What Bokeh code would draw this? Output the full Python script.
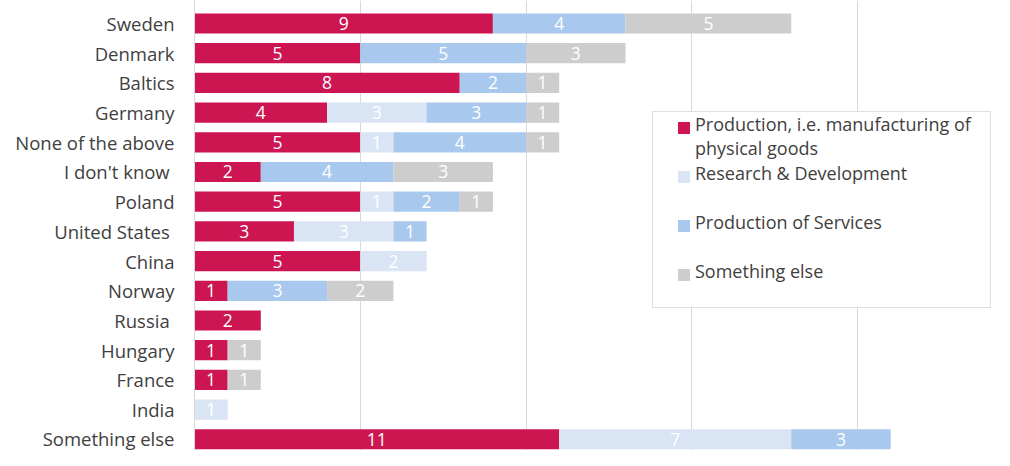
from bokeh.plotting import figure
from bokeh.models import Range1d, Legend, LegendItem, FixedTicker, ColumnDataSource
from bokeh.core.properties import value
from bokeh.embed import file_html
from bokeh.resources import INLINE

categories = ["Sweden", "Denmark", "Baltics", "Germany", "None of the above", "I don't know ",
              "Poland", "United States ", "China", "Norway", "Russia ", "Hungary", "France",
              "India", "Something else"]
production = [9, 5, 8, 4, 5, 2, 5, 3, 5, 1, 2, 1, 1, 0, 11]
research = [0, 0, 0, 3, 1, 0, 1, 3, 2, 0, 0, 0, 0, 1, 7]
services = [4, 5, 2, 3, 4, 4, 2, 1, 0, 3, 0, 0, 0, 0, 3]
other = [5, 3, 1, 1, 1, 3, 1, 0, 0, 2, 0, 1, 1, 0, 0]

series_names = ["Production, i.e. manufacturing of    \nphysical goods",
                "Research & Development\n ",
                "Production of Services\n ",
                "Something else\n "]
series = [production, research, services, other]
colors = ["#CC1551", "#D9E4F5", "#A9C8EE", "#CDCDCD"]

FONT = "Open Sans"
n = len(categories)
ypos = [n - 1 - i for i in range(n)]

p = figure(width=994, height=450, output_backend="svg", toolbar_location=None,
           y_range=Range1d(-0.378, 14.774), x_range=Range1d(0, 24.13),
           min_border_left=194, min_border_right=0, min_border_top=0, min_border_bottom=0)
p.outline_line_color = None
p.xaxis.visible = False
p.ygrid.visible = False
p.xgrid.ticker = FixedTicker(ticks=[0, 5, 10, 15, 20, 25])
p.xgrid.grid_line_color = "#D9D9D9"
p.yaxis.ticker = FixedTicker(ticks=ypos)
p.yaxis.major_label_overrides = {y: c for y, c in zip(ypos, categories)}
p.yaxis.axis_line_color = "#D9D9D9"
p.yaxis.major_tick_line_color = None
p.yaxis.minor_tick_line_color = None
p.yaxis.major_label_text_font = FONT
p.yaxis.major_label_text_font_size = "18.5px"
p.yaxis.major_label_text_color = "#404040"
p.yaxis.major_label_standoff = 14

renderers = []
lefts = [0] * n
for vals, col in zip(series, colors):
    rights = [l + v for l, v in zip(lefts, vals)]
    src = ColumnDataSource(dict(y=ypos, left=lefts, right=rights))
    r = p.hbar(y="y", left="left", right="right", height=0.68, source=src,
               fill_color=col, line_color=None)
    renderers.append(r)
    lx = [(l + rr) / 2 for l, rr, v in zip(lefts, rights, vals) if v > 0]
    ly = [yy for yy, v in zip(ypos, vals) if v > 0]
    lt = [str(v) for v in vals if v > 0]
    p.text(x=lx, y=ly, text=lt, text_color="white", text_align="center",
           text_baseline="middle", text_font=value(FONT), text_font_size="17.5px")
    lefts = rights

# invisible renderers carry the legend texts; the coloured squares come from a second legend
dummies = [p.hbar(y=[], left=[], right=[], height=0.5, fill_alpha=0, line_alpha=0) for _ in series]

text_legend = Legend(items=[LegendItem(label=nm, renderers=[d]) for nm, d in zip(series_names, dummies)],
                     location=(458, 142), orientation="vertical")
text_legend.label_text_font = FONT
text_legend.label_text_font_size = "18px"
text_legend.label_text_color = "#404040"
text_legend.glyph_width = 36
text_legend.glyph_height = 11
text_legend.label_height = 48
text_legend.label_standoff = 6
text_legend.spacing = 1
text_legend.padding = 0
text_legend.margin = 0
text_legend.border_line_color = "#BFBFBF"
text_legend.background_fill_color = "white"
p.add_layout(text_legend)

glyph_legend = Legend(items=[LegendItem(label=" ", renderers=[r]) for r in renderers],
                      location=(482, 152), orientation="vertical")
glyph_legend.label_text_font = FONT
glyph_legend.label_text_font_size = "18px"
glyph_legend.glyph_width = 15
glyph_legend.glyph_height = 15
glyph_legend.label_height = 48
glyph_legend.label_standoff = 0
glyph_legend.spacing = 1
glyph_legend.padding = 0
glyph_legend.margin = 0
glyph_legend.border_line_color = None
glyph_legend.background_fill_alpha = 0
p.add_layout(glyph_legend)

open("out.html", "w").write(file_html(p, INLINE))
